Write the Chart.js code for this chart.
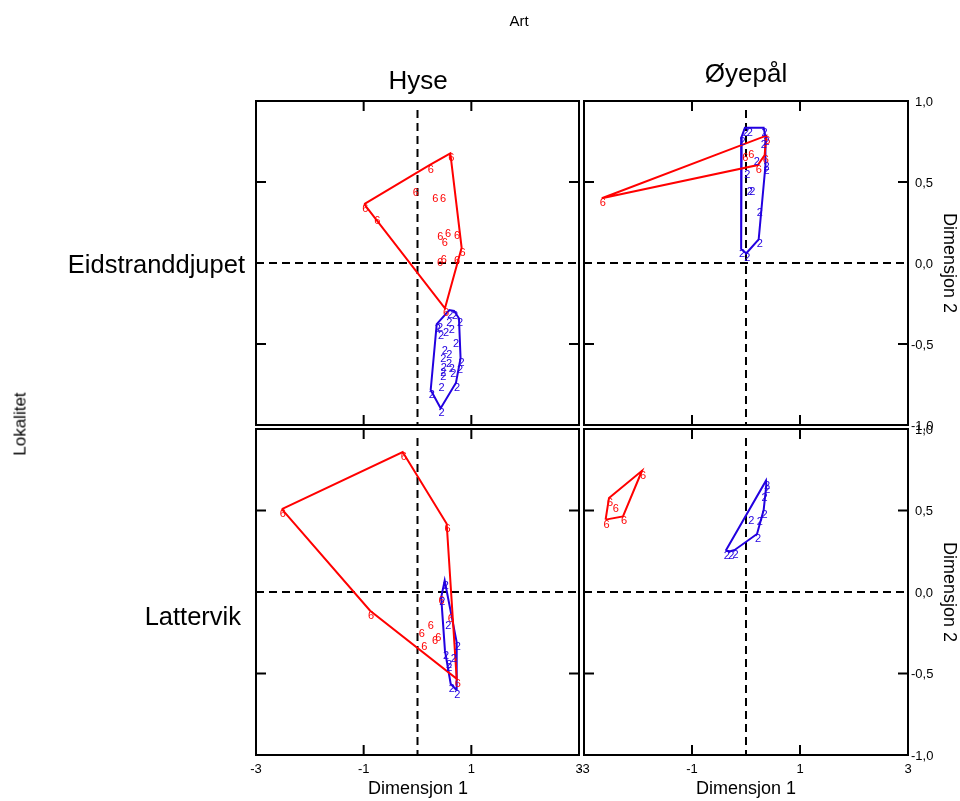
<!DOCTYPE html>
<html><head><meta charset="utf-8">
<script src="https://cdn.jsdelivr.net/npm/chart.js@4.4.1/dist/chart.umd.min.js"></script>
<style>
body{margin:0;width:960px;height:801px;background:#fff;position:relative;overflow:hidden;font-family:"Liberation Sans",Arial,sans-serif;}
canvas{position:absolute;left:0;top:0;}
.t{position:absolute;white-space:nowrap;color:#000;line-height:1;transform:translate(-50%,-50%);}
</style></head><body>
<canvas id="c0" width="960" height="801"></canvas>
<canvas id="c1" width="960" height="801"></canvas>
<canvas id="c2" width="960" height="801"></canvas>
<canvas id="c3" width="960" height="801"></canvas>
<div class="t" style="left:519px;top:20px;font-size:15px">Art</div>
<div class="t" style="left:418px;top:80px;font-size:26px">Hyse</div>
<div class="t" style="left:746px;top:73px;font-size:26px">Øyepål</div>
<div class="t" style="left:245px;top:265px;font-size:25.5px;transform:translate(-100%,-50%)">Eidstranddjupet</div>
<div class="t" style="left:241px;top:617px;font-size:25.5px;transform:translate(-100%,-50%)">Lattervik</div>
<div class="t" style="left:20px;top:424px;font-size:17px;transform:translate(-50%,-50%) rotate(-90deg)">Lokalitet</div>
<div class="t" style="left:418px;top:788px;font-size:18px">Dimensjon 1</div>
<div class="t" style="left:746px;top:788px;font-size:18px">Dimensjon 1</div>
<div class="t" style="left:950px;top:263px;font-size:18px;transform:translate(-50%,-50%) rotate(90deg)">Dimensjon 2</div>
<div class="t" style="left:950px;top:592px;font-size:18px;transform:translate(-50%,-50%) rotate(90deg)">Dimensjon 2</div>
<script>
// ---- data (Dimensjon 1, Dimensjon 2) ----
const hyseEid6 = [[0.61,0.677],[0.23,0.605],[-0.05,0.465],[0.31,0.424],[0.455,0.424],[-0.99,0.364],[-0.765,0.292],[0.405,0.191],[0.548,0.212],[0.487,0.154],[0.715,0.199],[0.82,0.094],[0.40,0.031],[0.47,0.049],[0.715,0.043],[0.51,-0.28]];
const hyseEid2 = [[0.59,-0.29],[0.68,-0.296],[0.77,-0.341],[0.357,-0.377],[0.57,-0.34],[0.40,-0.37],[0.617,-0.385],[0.51,-0.40],[0.42,-0.42],[0.70,-0.467],[0.49,-0.512],[0.57,-0.537],[0.80,-0.588],[0.46,-0.564],[0.567,-0.594],[0.77,-0.63],[0.47,-0.615],[0.617,-0.625],[0.46,-0.646],[0.646,-0.652],[0.46,-0.673],[0.715,-0.739],[0.43,-0.743],[0.245,-0.784],[0.43,-0.897]];
const oyeEid6 = [[-2.67,0.40],[0.376,0.786],[-0.03,0.68],[0.08,0.70],[0.346,0.667],[0.22,0.605]];
const oyeEid2 = [[0.05,0.835],[0.327,0.835],[0.36,0.78],[0.31,0.76],[0.18,0.656],[0.36,0.623],[0.36,0.60],[0.006,0.574],[0.05,0.471],[0.10,0.471],[0.235,0.341],[0.235,0.146],[-0.09,0.085],[0.006,0.06],[-0.08,0.78],[-0.02,0.835]];
const hyseLat6 = [[-0.275,0.859],[-2.52,0.509],[-0.88,-0.115],[0.728,-0.532],[0.542,0.419],[0.43,-0.023],[0.227,-0.176],[0.06,-0.227],[0.367,-0.254],[0.306,-0.268],[0.11,-0.309],[0.598,-0.135]];
const hyseLat2 = [[0.505,0.07],[0.44,-0.033],[0.553,-0.176],[0.728,-0.309],[0.51,-0.36],[0.654,-0.38],[0.567,-0.415],[0.572,-0.436],[0.617,-0.564],[0.72,-0.60]];
const oyeLat6 = [[-1.926,0.744],[-2.537,0.577],[-2.60,0.444],[-2.278,0.464],[-2.43,0.54]];
const oyeLat2 = [[0.37,0.683],[0.376,0.655],[0.327,0.605],[0.327,0.503],[0.235,0.458],[0.08,0.468],[0.204,0.356],[-0.376,0.253],[-0.29,0.25],[-0.21,0.258]];
const groupLabels = ['6','2'];
const xTickValues = [-3,-1,1,3];
const xTickLabels = ['-3','-1','1','3'];
const yTickValues = [1,0.5,0,-0.5,-1];
const yTickLabels = ['1,0','0,5','0,0','-0,5','-1,0'];

const RED = '#ff0000', BLUE = '#2200e0';

function hull(pts){
  const p = pts.slice().sort((a,b)=>a[0]-b[0]||a[1]-b[1]);
  const cr=(o,a,b)=>(a[0]-o[0])*(b[1]-o[1])-(a[1]-o[1])*(b[0]-o[0]);
  const lo=[],up=[];
  for(const q of p){while(lo.length>=2&&cr(lo[lo.length-2],lo[lo.length-1],q)<=0)lo.pop();lo.push(q);}
  for(let i=p.length-1;i>=0;i--){const q=p[i];while(up.length>=2&&cr(up[up.length-2],up[up.length-1],q)<=0)up.pop();up.push(q);}
  lo.pop();up.pop();
  const h=lo.concat(up);h.push(h[0]);
  return h.map(([x,y])=>({x,y}));
}
const toXY = a => a.map(([x,y])=>({x,y}));

const panelPlugin = {
  id:'panel',
  beforeDatasetsDraw(chart){
    const {ctx, chartArea:a, scales:{x,y}} = chart;
    ctx.save();
    ctx.strokeStyle='#000';ctx.lineWidth=2;ctx.setLineDash([8,5]);
    const x0=x.getPixelForValue(0), y0=y.getPixelForValue(0);
    ctx.beginPath();ctx.moveTo(x0,a.top+9);ctx.lineTo(x0,a.bottom);ctx.stroke();
    ctx.beginPath();ctx.moveTo(a.left,y0);ctx.lineTo(a.right,y0);ctx.stroke();
    ctx.restore();
  },
  afterDatasetsDraw(chart, args, opts){
    const {ctx, chartArea:a, scales:{x,y}} = chart;
    ctx.save();
    ctx.font='11px "Liberation Sans", Arial, sans-serif';
    ctx.textAlign='center';ctx.textBaseline='alphabetic';
    chart.data.datasets.forEach((ds,i)=>{
      if(!ds.textLabel) return;
      ctx.fillStyle=ds.textColor;
      ds.data.forEach(p=>{
        ctx.fillText(ds.textLabel, x.getPixelForValue(p.x)+1, y.getPixelForValue(p.y)+8);
      });
    });
    // frame
    ctx.strokeStyle='#000';ctx.lineWidth=2;ctx.setLineDash([]);
    ctx.strokeRect(a.left,a.top,a.right-a.left,a.bottom-a.top);
    ctx.beginPath();
    [-1,1].forEach(v=>{const px=x.getPixelForValue(v);ctx.moveTo(px,a.top);ctx.lineTo(px,a.top+10);ctx.moveTo(px,a.bottom);ctx.lineTo(px,a.bottom-10);});
    [-0.5,0.5].forEach(v=>{const py=y.getPixelForValue(v);ctx.moveTo(a.left,py);ctx.lineTo(a.left+10,py);ctx.moveTo(a.right,py);ctx.lineTo(a.right-10,py);});
    ctx.stroke();
    ctx.fillStyle='#000';ctx.font='13px "Liberation Sans", Arial, sans-serif';
    if(opts.showX){
      ctx.textAlign='center';ctx.textBaseline='middle';
      xTickValues.forEach((v,i)=>ctx.fillText(xTickLabels[i], x.getPixelForValue(v), a.bottom+14));
    }
    if(opts.showY){
      ctx.textAlign='left';ctx.textBaseline='middle';
      yTickValues.forEach((v,i)=>{const s=yTickLabels[i];ctx.fillText(s, a.right+(s[0]==='-'?3:7), y.getPixelForValue(v)+1);});
    }
    ctx.restore();
  }
};

const panels = [
  {id:'c0', l:256,t:101,r:579,b:425, p6:hyseEid6, p2:hyseEid2, showX:false, showY:false},
  {id:'c1', l:584,t:101,r:908,b:425, p6:oyeEid6, p2:oyeEid2, showX:false, showY:true},
  {id:'c2', l:256,t:429,r:579,b:755, p6:hyseLat6, p2:hyseLat2, showX:true, showY:false},
  {id:'c3', l:584,t:429,r:908,b:755, p6:oyeLat6, p2:oyeLat2, showX:true, showY:true}
];

panels.forEach(P=>{
  new Chart(document.getElementById(P.id), {
    type:'scatter',
    data:{datasets:[
      {data:hull(P.p6), showLine:true, borderColor:RED, borderWidth:2, pointRadius:0, tension:0, fill:false},
      {data:hull(P.p2), showLine:true, borderColor:BLUE, borderWidth:2, pointRadius:0, tension:0, fill:false},
      {data:toXY(P.p6), pointRadius:0, textLabel:groupLabels[0], textColor:RED},
      {data:toXY(P.p2), pointRadius:0, textLabel:groupLabels[1], textColor:BLUE}
    ]},
    options:{
      responsive:false, animation:false, devicePixelRatio:1,
      layout:{padding:{left:P.l, top:P.t, right:960-P.r, bottom:801-P.b}},
      plugins:{legend:{display:false}, tooltip:{enabled:false}, panel:{showX:P.showX, showY:P.showY}},
      events:[],
      scales:{
        x:{type:'linear', min:-3, max:3, display:false},
        y:{type:'linear', min:-1, max:1, display:false}
      }
    },
    plugins:[panelPlugin]
  });
});
</script>
</body></html>
